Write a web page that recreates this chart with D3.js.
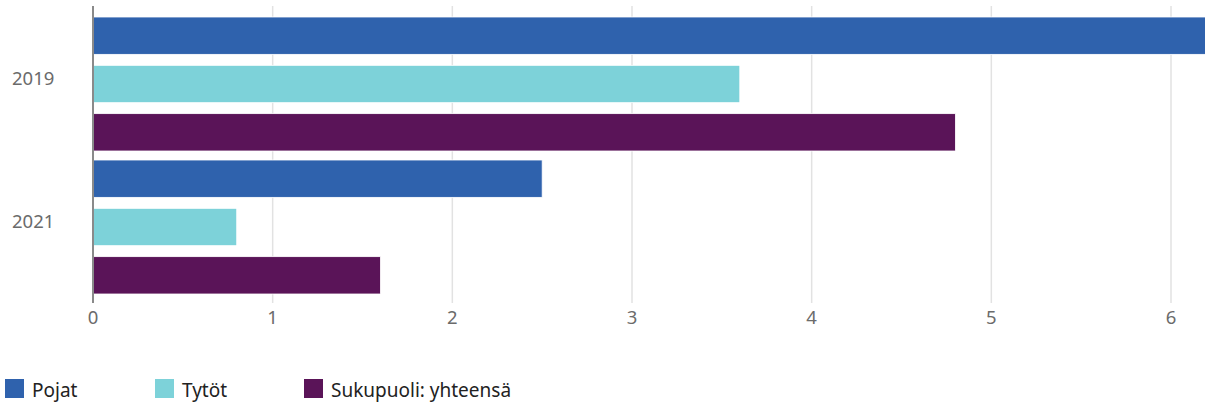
<!DOCTYPE html>
<html><head><meta charset="utf-8">
<script src="https://cdn.jsdelivr.net/npm/d3@7"></script>
<style>body{margin:0;background:#fff}svg{display:block}</style>
</head><body>
<script>
const categories = ["2019", "2021"];
const seriesNames = ["Pojat", "Tytöt", "Sukupuoli: yhteensä"];
const pojat = [6.4, 2.5];
const tytot = [3.6, 0.8];
const yhteensa = [4.8, 1.6];
const xTicks = [0, 1, 2, 3, 4, 5, 6];
const colors = ["#2f62ad", "#7dd2d9", "#5a1458"];

const W = 1205, H = 403;
const svg = d3.select("body").append("svg").attr("width", W).attr("height", H);
const font = "'Noto Sans',sans-serif";

const x = d3.scaleLinear().domain([0, 6]).range([93, 1171]);
const plotTop = 6, plotBottom = 303;
const y0 = d3.scaleBand().domain(categories).range([17, 294]).paddingInner(0.063).paddingOuter(0);
const y1 = d3.scaleBand().domain(seriesNames).range([0, y0.bandwidth()]).paddingInner(0.227).paddingOuter(0);

const values = [pojat, tytot, yhteensa];

// grid
svg.append("g").selectAll("line").data(xTicks.slice(1)).join("line")
  .attr("x1", d => x(d)).attr("x2", d => x(d))
  .attr("y1", plotTop).attr("y2", plotBottom)
  .attr("stroke", "#e2e2e2").attr("stroke-width", 1.5);

// bars
const data = [];
categories.forEach((c, i) => seriesNames.forEach((s, j) => data.push({c, s, j, v: values[j][i]})));
svg.append("g").selectAll("rect").data(data).join("rect")
  .attr("x", x(0))
  .attr("y", d => y0(d.c) + y1(d.s))
  .attr("width", d => x(d.v) - x(0))
  .attr("height", y1.bandwidth())
  .attr("fill", d => colors[d.j])
  .attr("stroke", "#fff").attr("stroke-width", 0.8);

// y axis line
svg.append("line").attr("x1", 93).attr("x2", 93).attr("y1", plotTop).attr("y2", plotBottom)
  .attr("stroke", "#8a8a8a").attr("stroke-width", 2);

// x tick labels
svg.append("g").selectAll("text").data(xTicks).join("text")
  .attr("x", d => x(d)).attr("y", 324)
  .attr("text-anchor", "middle")
  .attr("font-family", font).attr("font-size", 18.5).attr("fill", "#6b6b6b")
  .text(d => d);

// y labels
svg.append("g").selectAll("text").data(categories).join("text")
  .attr("x", 12).attr("y", d => y0(d) + y0.bandwidth() / 2 - 4)
  .attr("dominant-baseline", "middle")
  .attr("font-family", font).attr("font-size", 18.5).attr("fill", "#6b6b6b")
  .text(d => d);

// legend
const legendX = [5, 155, 304];
const lg = svg.append("g").selectAll("g").data(seriesNames).join("g")
  .attr("transform", (d, i) => `translate(${legendX[i]},379)`);
lg.append("rect").attr("width", 19).attr("height", 19).attr("fill", (d, i) => colors[i]);
lg.append("text").attr("x", 27).attr("y", 18)
  .attr("font-family", font).attr("font-size", 19).attr("fill", "#222")
  .text(d => d);
</script>
</body></html>
